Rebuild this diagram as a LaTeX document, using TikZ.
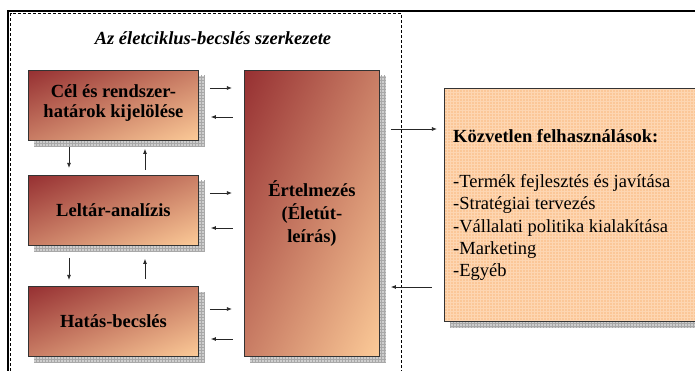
\documentclass[tikz,border=0pt]{standalone}
\usepackage{fontspec}
\setmainfont{Liberation Serif}
\usetikzlibrary{arrows.meta,patterns,backgrounds}

\definecolor{shgray}{RGB}{206,206,206}
\definecolor{shline}{RGB}{168,168,168}
\definecolor{panel}{RGB}{251,199,152}
\definecolor{panelline}{RGB}{253,214,178}

% diagonal fill: dark red in the upper left corner, peach in the lower right
\pgfdeclarefunctionalshading{diagfill}{\pgfpoint{-50bp}{-50bp}}{\pgfpoint{50bp}{50bp}}{}{
  sub 50 add 100 div
  dup 0 lt {pop 0} if
  dup 1 gt {pop 1} if
  dup 102 mul 150 add 255 div exch
  dup 155 mul 48 add 255 div exch
  102 mul 50 add 255 div
}

\begin{document}
\begin{tikzpicture}[x=1pt,y=-1pt,
  stage/.style={draw=black!80, line width=0.9pt, shade, shading=diagfill,
    anchor=north west, inner sep=0pt, align=center,
    font=\bfseries\fontsize{18.5}{20}\selectfont},
  usebox/.style={anchor=north west, inner sep=0pt, draw=black!80, line width=0.9pt,
    preaction={fill=panel}, pattern=grid, pattern color=panelline},
  line/.style={anchor=base west, inner sep=0pt, font=\fontsize{18.5}{22}\selectfont},
  arr/.style={line width=0.8pt, black!85, -{Latex[length=5pt,width=4pt]}},
  frame/.style={line width=2pt},
  inner frame/.style={line width=1pt, dash pattern=on 3pt off 2pt}]

\useasboundingbox (0,0) rectangle (695,371);

% white page
\begin{scope}[on background layer]
  \fill[white] (0,0) rectangle (695,371);
\end{scope}

% outer frame and dashed block boundary
\draw[frame] (8,371) -- (8,11) -- (695,11);
\draw[inner frame] (10.5,371) -- (10.5,13.5) -- (401.5,13.5) -- (401.5,371);

% title
\node[anchor=base, inner sep=0pt, font=\bfseries\itshape\fontsize{18.5}{20}\selectfont] (title)
  at (213,45) {Az életciklus-becslés szerkezete};

% phase boxes
\node[stage, minimum width=170pt, minimum height=70pt, text depth=9pt] (b1) at (28,70) {Cél és rendszer-\\határok kijelölése};
\node[stage, minimum width=170pt, minimum height=70pt] (b2) at (28,175) {Leltár-analízis};
\node[stage, minimum width=170pt, minimum height=70pt] (b3) at (28,286) {Hatás-becslés};
\node[stage, minimum width=135pt, minimum height=286pt,
      font=\bfseries\fontsize{18.5}{23}\selectfont] (big) at (244,70) {Értelmezés\\(Életút-\\leírás)};

% applications panel
\node[usebox, minimum width=270pt, minimum height=233pt] (uses) at (444,88) {};
\node[line, font=\bfseries\fontsize{18.5}{22}\selectfont] (uh) at (453,143) {Közvetlen felhasználások:};
\foreach [count=\i] \t in {Termék fejlesztés és javítása, Stratégiai tervezés,
    Vállalati politika kialakítása, Marketing, Egyéb}
  \node[line] (u\i) at (453,{143+22.3*(\i+1)}) {-\t};

% grid shadows
\begin{scope}[on background layer]
  \foreach \n in {b1,b2,b3,big,uses} {
    \fill[shgray] ([shift={(6,6)}]\n.north west) rectangle ([shift={(6,6)}]\n.south east);
    \fill[pattern=grid, pattern color=shline] ([shift={(6,6)}]\n.north west) rectangle ([shift={(6,6)}]\n.south east);
  }
\end{scope}

% exchanges with the interpretation box
\draw[arr] ([shift={(11,18)}]b1.north east) -- ([shift={(33,18)}]b1.north east);
\draw[arr] ([shift={(34,47)}]b1.north east) -- ([shift={(12,47)}]b1.north east);
\draw[arr] ([shift={(11,18)}]b2.north east) -- ([shift={(33,18)}]b2.north east);
\draw[arr] ([shift={(34,53)}]b2.north east) -- ([shift={(12,53)}]b2.north east);
\draw[arr] ([shift={(11,23)}]b3.north east) -- ([shift={(33,23)}]b3.north east);
\draw[arr] ([shift={(34,53)}]b3.north east) -- ([shift={(12,53)}]b3.north east);

% flow between the phases
\draw[arr] ([shift={(41,6)}]b1.south west) -- ([shift={(41,27)}]b1.south west);
\draw[arr] ([shift={(117,29)}]b1.south west) -- ([shift={(117,8)}]b1.south west);
\draw[arr] ([shift={(41,12)}]b2.south west) -- ([shift={(41,34)}]b2.south west);
\draw[arr] ([shift={(117,33)}]b2.south west) -- ([shift={(117,13)}]b2.south west);

% interpretation <-> applications
\draw[arr] ([shift={(11,59)}]big.north east) -- ([shift={(57,59)}]big.north east);
\draw[arr] ([shift={(52,217)}]big.north east) -- ([shift={(11,217)}]big.north east);

\end{tikzpicture}
\end{document}
